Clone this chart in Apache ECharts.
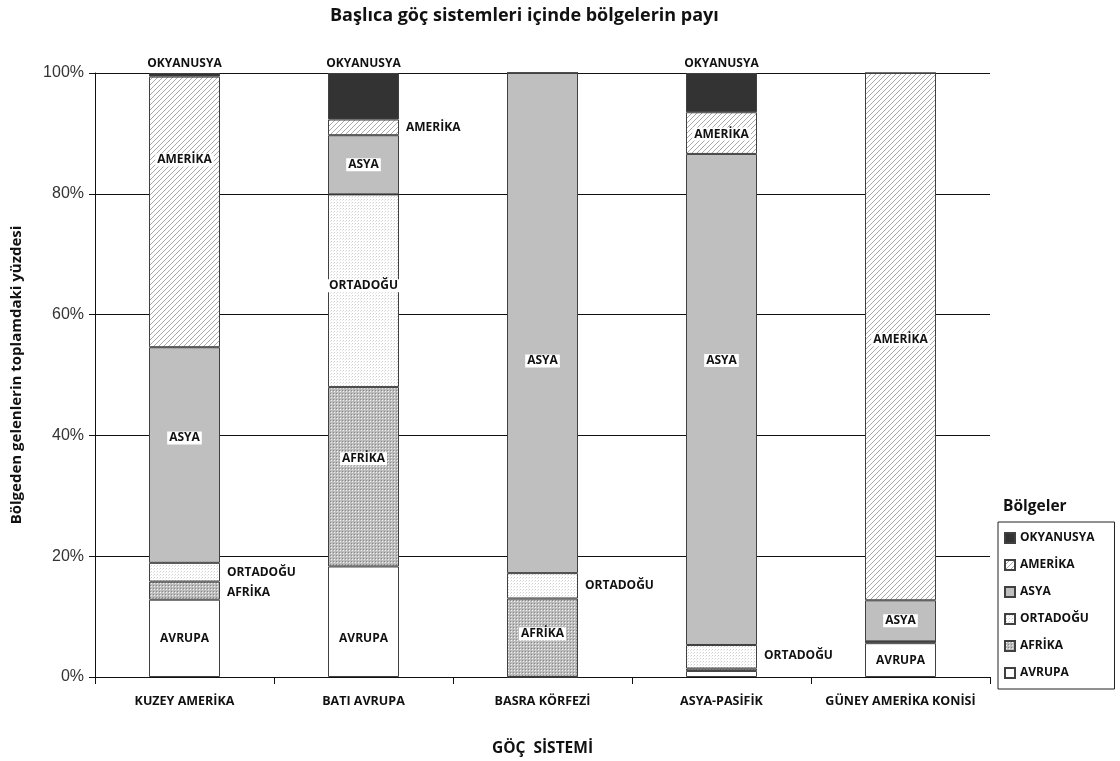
<!DOCTYPE html>
<html>
<head>
<meta charset="utf-8">
<script src="https://cdn.jsdelivr.net/npm/echarts@6/dist/echarts.min.js"></script>
<style>
  html, body { margin: 0; padding: 0; background: #fff; }
  #chart { width: 1120px; height: 761px; }
</style>
</head>
<body>
<div id="chart"></div>
<script>
// values (percent of total, stacked bottom -> top)
const categories = ['KUZEY AMERİKA', 'BATI AVRUPA', 'BASRA KÖRFEZİ', 'ASYA-PASİFİK', 'GÜNEY AMERİKA KONİSİ']
const avrupa    = [12.8, 18.3, 0,    1.0,  5.6]
const afrika    = [3.0,  29.7, 13.0, 0.4,  0.3]
const ortadogu  = [3.1,  31.9, 4.2,  3.9,  0]
const asya      = [35.7, 9.8,  82.8, 81.3, 6.8]
const amerika   = [44.8, 2.6,  0,    6.9,  87.3]
const okyanusya = [0.6,  7.7,  0,    6.5,  0]
const yTickLabels = ['0%', '20%', '40%', '60%', '80%', '100%']

// where each segment's label goes (null = no label) and a vertical nudge
const labelSpots = {
  'AVRUPA':    ['inside', 'inside', null, null, 'inside'],
  'AFRİKA':    ['right', 'inside', 'inside', null, null],
  'ORTADOĞU':  ['right', 'inside', 'right', 'right', null],
  'ASYA':      ['inside', 'inside', 'inside', 'inside', 'inside'],
  'AMERİKA':   ['inside', 'right', null, 'inside', 'inside'],
  'OKYANUSYA': ['top', 'top', null, 'top', null],
}
const labelShift = {
  'AVRUPA':    [0, 17, 0, 0, 0],
  'AFRİKA':    [2, -18, -4, 0, 0],
  'ORTADOĞU':  [0, -5, 0, -1, 0],
  'ASYA':      [-17, 0, 38, -39, 0],
  'AMERİKA':   [-52, 0, 0, 1, 3],
  'OKYANUSYA': [0, 0, 0, 0, 0],
}

function tile(size, draw) {
  const c = document.createElement('canvas')
  c.width = size; c.height = size
  const ctx = c.getContext('2d')
  draw(ctx)
  return { image: c, repeat: 'repeat' }
}

const hatch = tile(5, ctx => {
  ctx.fillStyle = '#fff'; ctx.fillRect(0, 0, 5, 5)
  ctx.strokeStyle = '#a8a8a8'; ctx.lineWidth = 1
  ctx.beginPath()
  ctx.moveTo(-1, 6); ctx.lineTo(6, -1)
  ctx.stroke()
})
const denseDots = tile(3, ctx => {
  ctx.fillStyle = '#bcbcbc'; ctx.fillRect(0, 0, 3, 3)
  ctx.fillStyle = '#f2f2f2'; ctx.fillRect(1, 1, 1, 1)
  ctx.fillStyle = '#8a8a8a'; ctx.fillRect(0, 0, 1, 1)
})
const lightDots = tile(3, ctx => {
  ctx.fillStyle = '#fff'; ctx.fillRect(0, 0, 3, 3)
  ctx.fillStyle = '#cfcfcf'; ctx.fillRect(1, 1, 1, 1)
  ctx.fillStyle = '#e6e6e6'; ctx.fillRect(0, 2, 1, 1)
})

const font = '"Open Sans", Lato, sans-serif'

function makeSeries(name, values, color) {
  return {
    name,
    type: 'bar',
    stack: 'total',
    barWidth: 71,
    itemStyle: { color, borderColor: '#404040', borderWidth: 1 },
    emphasis: { disabled: true },
    data: values.map((v, i) => {
      const pos = labelSpots[name][i]
      return {
        value: v,
        label: pos ? {
          show: true,
          position: pos,
          offset: [0, labelShift[name][i]],
          distance: pos === 'top' ? 3 : 5,
          formatter: name,
          fontFamily: font,
          fontWeight: 'bold',
          fontSize: 12,
          color: '#111',
          backgroundColor: pos === 'inside' ? '#fff' : 'transparent',
          padding: [1, 2, 0, 2],
        } : { show: false },
      }
    }),
  }
}

const chart = echarts.init(document.getElementById('chart'))
chart.setOption({
  animation: false,
  title: {
    text: 'Başlıca göç sistemleri içinde bölgelerin payı',
    left: 325,
    top: 2,
    textStyle: { fontFamily: font, fontWeight: 'bold', fontSize: 18, color: '#111' },
  },
  grid: { left: 95, right: 130, top: 73, bottom: 84, outerBoundsMode: 'none' },
  legend: {
    orient: 'vertical',
    left: 998,
    top: 522,
    data: ['OKYANUSYA', 'AMERİKA', 'ASYA', 'ORTADOĞU', 'AFRİKA', 'AVRUPA'],
    icon: 'rect',
    itemWidth: 10,
    itemHeight: 10,
    itemGap: 15,
    padding: [10, 20, 10, 6],
    borderColor: '#222',
    borderWidth: 1,
    selectedMode: false,
    textStyle: { fontFamily: font, fontWeight: 'bold', fontSize: 12, color: '#111' },
  },
  graphic: [{
    type: 'text',
    left: 1003,
    top: 499,
    style: { text: 'Bölgeler', fontFamily: font, fontWeight: 'bold', fontSize: 15.5, fill: '#111' },
  }],
  xAxis: {
    type: 'category',
    data: categories,
    name: 'GÖÇ  SİSTEMİ',
    nameLocation: 'middle',
    nameGap: 64,
    nameTextStyle: { fontFamily: font, fontWeight: 'bold', fontSize: 15.5, color: '#111' },
    axisLine: { lineStyle: { color: '#111', width: 1 } },
    axisTick: { show: true, interval: 0, length: 7, lineStyle: { color: '#111' } },
    axisLabel: { interval: 0, fontFamily: font, fontWeight: 'bold', fontSize: 12.5, color: '#111', margin: 18 },
  },
  yAxis: {
    type: 'value',
    min: 0,
    max: 100,
    interval: 20,
    name: 'Bölgeden gelenlerin toplamdaki yüzdesi',
    nameLocation: 'middle',
    nameGap: 71,
    nameTextStyle: { fontFamily: font, fontWeight: 'bold', fontSize: 15, color: '#111' },
    axisLine: { show: true, lineStyle: { color: '#111', width: 1 } },
    axisTick: { show: true, length: 6, lineStyle: { color: '#111' } },
    axisLabel: {
      fontFamily: '"Liberation Sans", Arial, sans-serif',
      fontSize: 16,
      color: '#333',
      margin: 11,
      formatter: v => yTickLabels[v / 20],
    },
    splitLine: { lineStyle: { color: '#111', width: 1 } },
  },
  series: [
    makeSeries('AVRUPA', avrupa, '#ffffff'),
    makeSeries('AFRİKA', afrika, denseDots),
    makeSeries('ORTADOĞU', ortadogu, lightDots),
    makeSeries('ASYA', asya, '#bfbfbf'),
    makeSeries('AMERİKA', amerika, hatch),
    makeSeries('OKYANUSYA', okyanusya, '#333333'),
  ],
})
</script>
</body>
</html>
